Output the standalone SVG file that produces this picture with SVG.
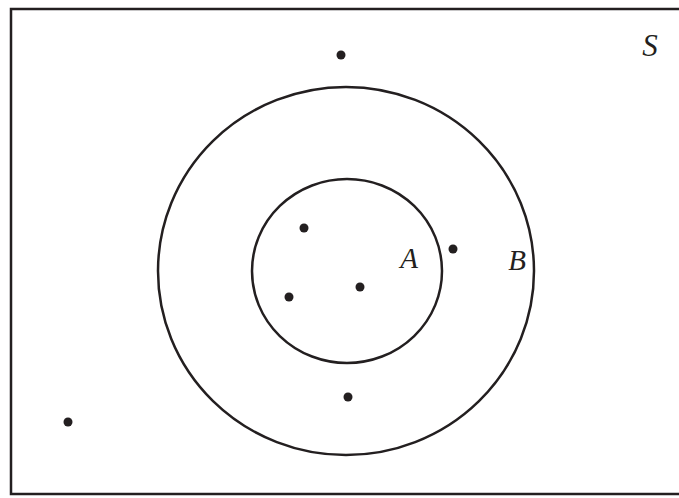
<svg xmlns="http://www.w3.org/2000/svg" width="679" height="498" viewBox="0 0 679 498">
<style>
.ln{fill:none;stroke:#231f20;stroke-width:2.5}
.dot{fill:#231f20}
.lbl{font-family:"Liberation Serif",serif;font-style:italic;font-size:29px;fill:#231f20;text-anchor:middle}
</style>
<rect width="679" height="498" fill="#fff"/>
<g id="S">
<rect class="ln" x="11" y="9" width="670" height="485"/>
<text class="lbl" x="650" y="56" style="font-size:31px">S</text>
</g>
<g id="B">
<ellipse class="ln" cx="346" cy="271" rx="188" ry="184"/>
<text class="lbl" x="517" y="270">B</text>
</g>
<g id="A">
<ellipse class="ln" cx="347" cy="271" rx="95" ry="92"/>
<text class="lbl" x="409" y="268">A</text>
</g>
<g id="points">
<circle class="dot" cx="341" cy="55" r="4.5"/>
<circle class="dot" cx="304" cy="228" r="4.5"/>
<circle class="dot" cx="453" cy="249" r="4.5"/>
<circle class="dot" cx="289" cy="297" r="4.5"/>
<circle class="dot" cx="360" cy="287" r="4.5"/>
<circle class="dot" cx="348" cy="397" r="4.5"/>
<circle class="dot" cx="68" cy="422" r="4.5"/>
</g>
</svg>
